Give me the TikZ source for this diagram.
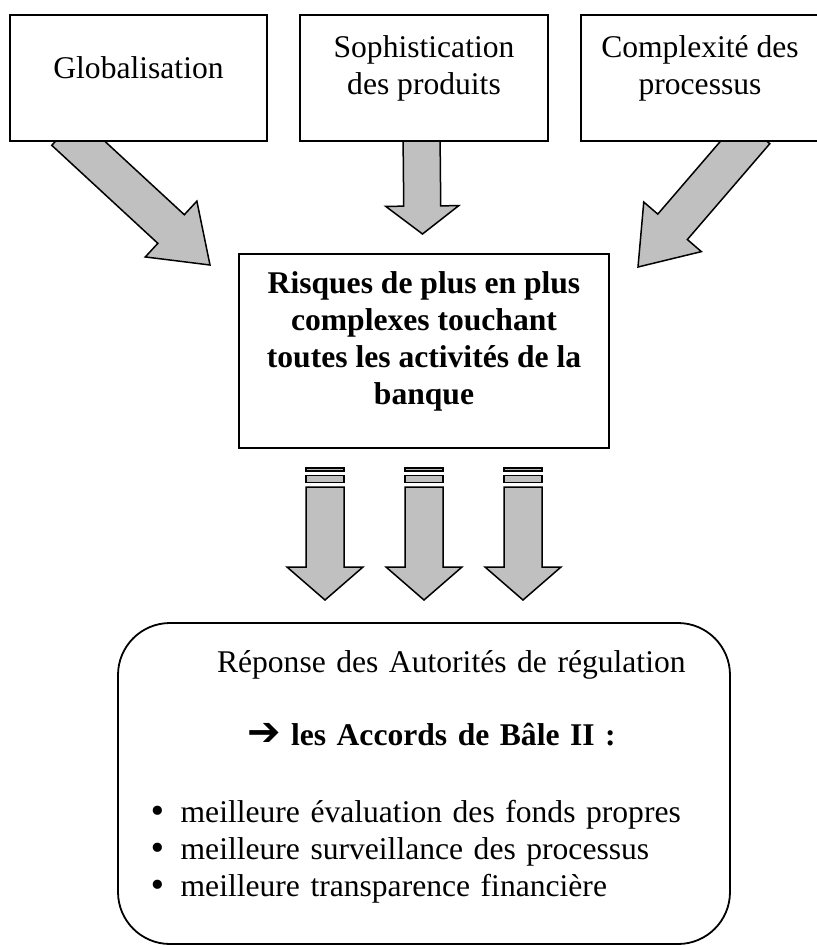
\documentclass[tikz,border=0pt]{standalone}
\usepackage{fontspec}
\setmainfont{Liberation Serif}
\newfontfamily\symfont{DejaVu Sans}
\usepackage{tikz}
\usetikzlibrary{positioning,calc,backgrounds}

\definecolor{arrowgray}{HTML}{C0C0C0}
\newcommand{\bigtext}{\fontsize{31.6}{37}\selectfont}

% block arrow: start, tip, shaft half width, head half width, head length
\newcommand{\blockarrow}[5]{%
  \coordinate (ba-s) at (#1);
  \coordinate (ba-t) at (#2);
  \coordinate (ba-h) at ($(ba-t)!#5!(ba-s)$);
  \draw[fatarrow] ($(ba-s)!#3!90:(ba-t)$) -- ($(ba-h)!#3!90:(ba-t)$)
    -- ($(ba-h)!#4!90:(ba-t)$) -- (ba-t) -- ($(ba-h)!#4!-90:(ba-t)$)
    -- ($(ba-h)!#3!-90:(ba-t)$) -- ($(ba-s)!#3!-90:(ba-t)$) -- cycle;
}

\begin{document}
\begin{tikzpicture}[
    x=1pt, y=1pt,
    node distance=33pt,
    topbox/.style={draw, line width=2pt, fill=white, outer sep=0pt, minimum height=126pt},
    txt/.style={align=center, yshift=10pt, font=\bigtext},
    resptext/.style={text width=552pt, align=left, yshift=7pt, font=\bigtext},
    fatarrow/.style={draw, line width=1.5pt, fill=arrowgray, line join=miter}
  ]
    \useasboundingbox (0,0) rectangle (817,-946);
    \clip (0,0) rectangle (817,-946);

    \node[topbox, anchor=north west, minimum width=257pt, label={[txt]center:Globalisation}] (glob) at (10,-15) {};
    \node[topbox, right=of glob, minimum width=248pt, label={[txt]center:{Sophistication\\des produits}}] (soph) {};
    \node[topbox, right=of soph, minimum width=238pt, label={[txt]center:{Complexité des\\processus}}] (cplx) {};

    \node[topbox, below=113pt of soph, minimum width=370pt, minimum height=194pt,
      label={[txt, font=\bigtext\bfseries]center:{Risques de plus en plus\\complexes touchant\\toutes les activités de la\\banque}}] (risk) {};

    \node[draw, line width=1.8pt, fill=white, outer sep=0pt, rounded corners=52pt, below=175pt of risk,
      minimum width=612pt, minimum height=321pt,
      label={[resptext]center:{\hspace*{69pt}Réponse des Autorités de régulation\\[36pt]
        \hspace*{99pt}{\bfseries{\fontsize{40}{37}\symfont ➔} les Accords de Bâle II :}\\[40pt]
        {\symfont •}\hspace{14pt}meilleure évaluation des fonds propres\\
        {\symfont •}\hspace{14pt}meilleure surveillance des processus\\
        {\symfont •}\hspace{14pt}meilleure transparence financière}}] (resp) {};

    \begin{scope}[on background layer]
      \blockarrow{[shift={(55pt,10pt)}]glob.south west}{[shift={(-29pt,-11pt)}]risk.north west}{19.5pt}{38pt}{53pt}
      \blockarrow{[shift={(-2.5pt,10pt)}]soph.south}{[shift={(-1.5pt,20pt)}]risk.north}{18.5pt}{36.5pt}{28pt}
      \blockarrow{[shift={(174pt,10pt)}]cplx.south west}{[shift={(29pt,-13pt)}]risk.north east}{19.5pt}{38pt}{53pt}
    \end{scope}

    \foreach \dx in {-99,0,99} {
      \draw[fatarrow] ([shift={(\dx pt-19pt,-20pt)}]risk.south) rectangle ([shift={(\dx pt+19pt,-23pt)}]risk.south);
      \draw[fatarrow] ([shift={(\dx pt-19pt,-27.5pt)}]risk.south) rectangle ([shift={(\dx pt+19pt,-34.5pt)}]risk.south);
      \blockarrow{[shift={(\dx pt,-39pt)}]risk.south}{[shift={(\dx pt,23pt)}]resp.north}{19pt}{38pt}{33pt}
    }
  \end{tikzpicture}
\end{document}
